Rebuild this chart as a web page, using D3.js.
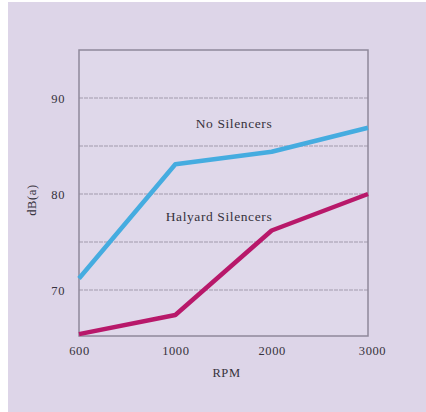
<!DOCTYPE html>
<html>
<head>
<meta charset="utf-8">
<script src="https://cdn.jsdelivr.net/npm/d3@7"></script>
<style>
  html, body { margin: 0; padding: 0; background: #ffffff; }
  svg { display: block; }
</style>
</head>
<body>
<svg id="chart" width="426" height="412"></svg>
<script>
// Engine speed categories and noise levels (dB(a))
const rpm = ["600", "1000", "2000", "3000"];
const noSilencers = [71.2, 83.1, 84.4, 86.9];
const halyardSilencers = [65.4, 67.4, 76.2, 80.0];
const yTicks = [70, 80, 90];
const yGrid = [70, 75, 80, 85, 90];

const svg = d3.select("#chart");
const W = 426, H = 412;
const margin = { left: 79, right: 58, top: 50, bottom: 76 };

// lavender backdrop
svg.append("rect").attr("x", 8).attr("y", 2).attr("width", W - 8).attr("height", H - 2)
  .attr("fill", "#ddd5e8");

const x = d3.scalePoint().domain(rpm).range([margin.left, W - margin.right]).padding(0);
const y = d3.scaleLinear().domain([65, 95]).range([H - margin.bottom + 2, margin.top]);

const plotX0 = margin.left, plotX1 = W - margin.right;
const plotY0 = margin.top, plotY1 = H - margin.bottom;

// plot area
svg.append("rect").attr("x", plotX0).attr("y", plotY0)
  .attr("width", plotX1 - plotX0).attr("height", plotY1 - plotY0)
  .attr("fill", "#dfd8ea");

// horizontal grid
svg.append("g").selectAll("line").data(yGrid).join("line")
  .attr("x1", plotX0).attr("x2", plotX1)
  .attr("y1", d => y(d)).attr("y2", d => y(d))
  .attr("stroke", "#a199ab").attr("stroke-width", 1.2)
  .attr("stroke-dasharray", "4,1");

// plot frame
svg.append("rect").attr("x", plotX0).attr("y", plotY0)
  .attr("width", plotX1 - plotX0).attr("height", plotY1 - plotY0)
  .attr("fill", "none").attr("stroke", "#8f889a").attr("stroke-width", 1.5);

const font = "'Liberation Serif', 'DejaVu Serif', serif";
const textColor = "#36323c";

function styleText(sel, size) {
  sel.attr("font-family", font).attr("font-size", size)
    .attr("fill", textColor).attr("letter-spacing", 0.6);
}

// y tick labels
const yAxis = d3.axisLeft(y).tickValues(yTicks).tickSize(0).tickPadding(14);
const gy = svg.append("g").attr("transform", `translate(${plotX0},0)`).call(yAxis);
gy.select(".domain").remove();
styleText(gy.selectAll("text"), 12.5);

// x tick labels
const xAxis = d3.axisBottom(x).tickSize(0).tickPadding(10);
const gx = svg.append("g").attr("transform", `translate(0,${plotY1})`).call(xAxis);
gx.select(".domain").remove();
styleText(gx.selectAll("text"), 12.5);
gx.selectAll(".tick").filter(d => d === "3000").select("text").attr("dx", 4);

// axis titles
styleText(svg.append("text").attr("x", (plotX0 + plotX1) / 2 + 3).attr("y", 377)
  .attr("text-anchor", "middle").text("RPM"), 12.5);
styleText(svg.append("text").attr("transform", `translate(36,200) rotate(-90)`)
  .attr("text-anchor", "middle").text("dB(a)"), 12.5);

// series lines
const line = d3.line().x((d, i) => x(rpm[i])).y(d => y(d));
svg.append("path").datum(noSilencers).attr("d", line)
  .attr("fill", "none").attr("stroke", "#45ace0").attr("stroke-width", 4.5)
  .attr("stroke-linejoin", "round");
svg.append("path").datum(halyardSilencers).attr("d", line)
  .attr("fill", "none").attr("stroke", "#b8186a").attr("stroke-width", 4.5)
  .attr("stroke-linejoin", "round");

// series labels
styleText(svg.append("text").attr("x", 234).attr("y", 128)
  .attr("text-anchor", "middle").text("No Silencers"), 13.5);
styleText(svg.append("text").attr("x", 219).attr("y", 221)
  .attr("text-anchor", "middle").text("Halyard Silencers"), 13.5);
</script>
</body>
</html>
